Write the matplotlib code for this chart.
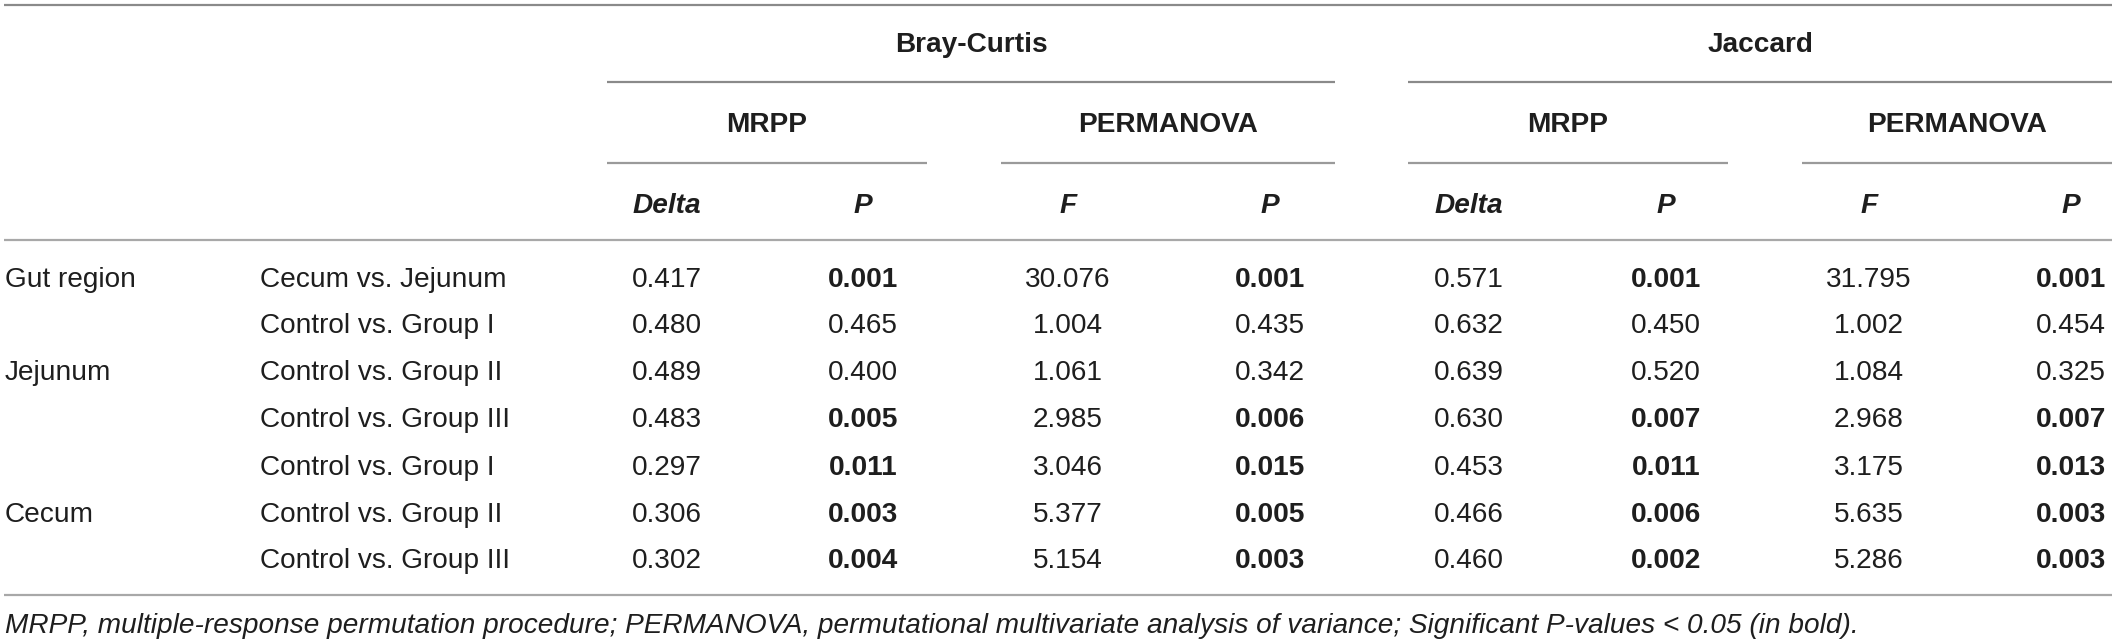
import matplotlib
matplotlib.use("Agg")
from matplotlib import pyplot as plt

regions = ["Gut region", "", "Jejunum", "", "", "Cecum", ""]
comparisons = ["Cecum vs. Jejunum",
               "Control vs. Group I",
               "Control vs. Group II",
               "Control vs. Group III",
               "Control vs. Group I",
               "Control vs. Group II",
               "Control vs. Group III"]

bc_delta = ["0.417", "0.480", "0.489", "0.483", "0.297", "0.306", "0.302"]
bc_mrpp_p = ["0.001", "0.465", "0.400", "0.005", "0.011", "0.003", "0.004"]
bc_f = ["30.076", "1.004", "1.061", "2.985", "3.046", "5.377", "5.154"]
bc_perm_p = ["0.001", "0.435", "0.342", "0.006", "0.015", "0.005", "0.003"]
ja_delta = ["0.571", "0.632", "0.639", "0.630", "0.453", "0.466", "0.460"]
ja_mrpp_p = ["0.001", "0.450", "0.520", "0.007", "0.011", "0.006", "0.002"]
ja_f = ["31.795", "1.002", "1.084", "2.968", "3.175", "5.635", "5.286"]
ja_perm_p = ["0.001", "0.454", "0.325", "0.007", "0.013", "0.003", "0.003"]

distances = ["Bray-Curtis", "Jaccard"]
tests = ["MRPP", "PERMANOVA", "MRPP", "PERMANOVA"]
stats = ["Delta", "P", "F", "P", "Delta", "P", "F", "P"]

footnote = ("MRPP, multiple-response permutation procedure; PERMANOVA, permutational "
            "multivariate analysis of variance; Significant P-values < 0.05 (in bold).")

W, H = 2117, 644
fig = plt.figure(figsize=(W / 100, H / 100), dpi=100)
ax = fig.add_axes([0, 0, 1, 1])
ax.set_xlim(0, W)
ax.set_ylim(H, 0)
ax.axis("off")

font = "Liberation Sans"
fs = 20.2
txt = "#1e1e1e"
line = "#9a9a9a"

# layout in pixels
x_left = 4
x_right = 2112
x_region = 5
x_comp = 260
col_x = [667, 863, 1068, 1270, 1469, 1666, 1869, 2071]
dist_span = [(607, 1335), (1408, 2112)]
test_span = [(607, 927), (1001, 1335), (1408, 1728), (1802, 2112)]
y_head = [42, 122, 203]
y_rows = [277, 323, 370, 417, 465, 512, 558]
off = 10  # baseline below visual centre


def put(x, y, s, ha="center", weight="normal", style="normal"):
    ax.text(x, y + off, s, ha=ha, va="baseline", fontsize=fs, family=font,
            fontweight=weight, fontstyle=style, color=txt)


# rules
ax.plot([x_left, x_right], [5, 5], color="#8a8a8a", lw=1.6, solid_capstyle="butt")
ax.plot([x_left, x_right], [240, 240], color="#a8a8a8", lw=1.6, solid_capstyle="butt")
ax.plot([x_left, x_right], [595, 595], color="#a8a8a8", lw=1.6, solid_capstyle="butt")
for a, b in dist_span:
    ax.plot([a, b], [82, 82], color="#8a8a8a", lw=1.6, solid_capstyle="butt")
for a, b in test_span:
    ax.plot([a, b], [163, 163], color="#9a9a9a", lw=1.6, solid_capstyle="butt")

# header
for (a, b), name in zip(dist_span, distances):
    put((a + b) / 2, y_head[0], name, weight="bold")
for (a, b), name in zip(test_span, tests):
    put((a + b) / 2, y_head[1], name, weight="bold")
for x, name in zip(col_x, stats):
    put(x, y_head[2], name, weight="bold", style="italic")

# body
columns = [bc_delta, bc_mrpp_p, bc_f, bc_perm_p, ja_delta, ja_mrpp_p, ja_f, ja_perm_p]
is_p = [False, True, False, True, False, True, False, True]
for i, y in enumerate(y_rows):
    put(x_region, y, regions[i], ha="left")
    put(x_comp, y, comparisons[i], ha="left")
    for x, col, p in zip(col_x, columns, is_p):
        bold = p and float(col[i]) < 0.05
        put(x, y, col[i], weight="bold" if bold else "normal")

put(x_region, 623, footnote, ha="left", style="italic")

fig.savefig("out.png", dpi=100, facecolor="white")
